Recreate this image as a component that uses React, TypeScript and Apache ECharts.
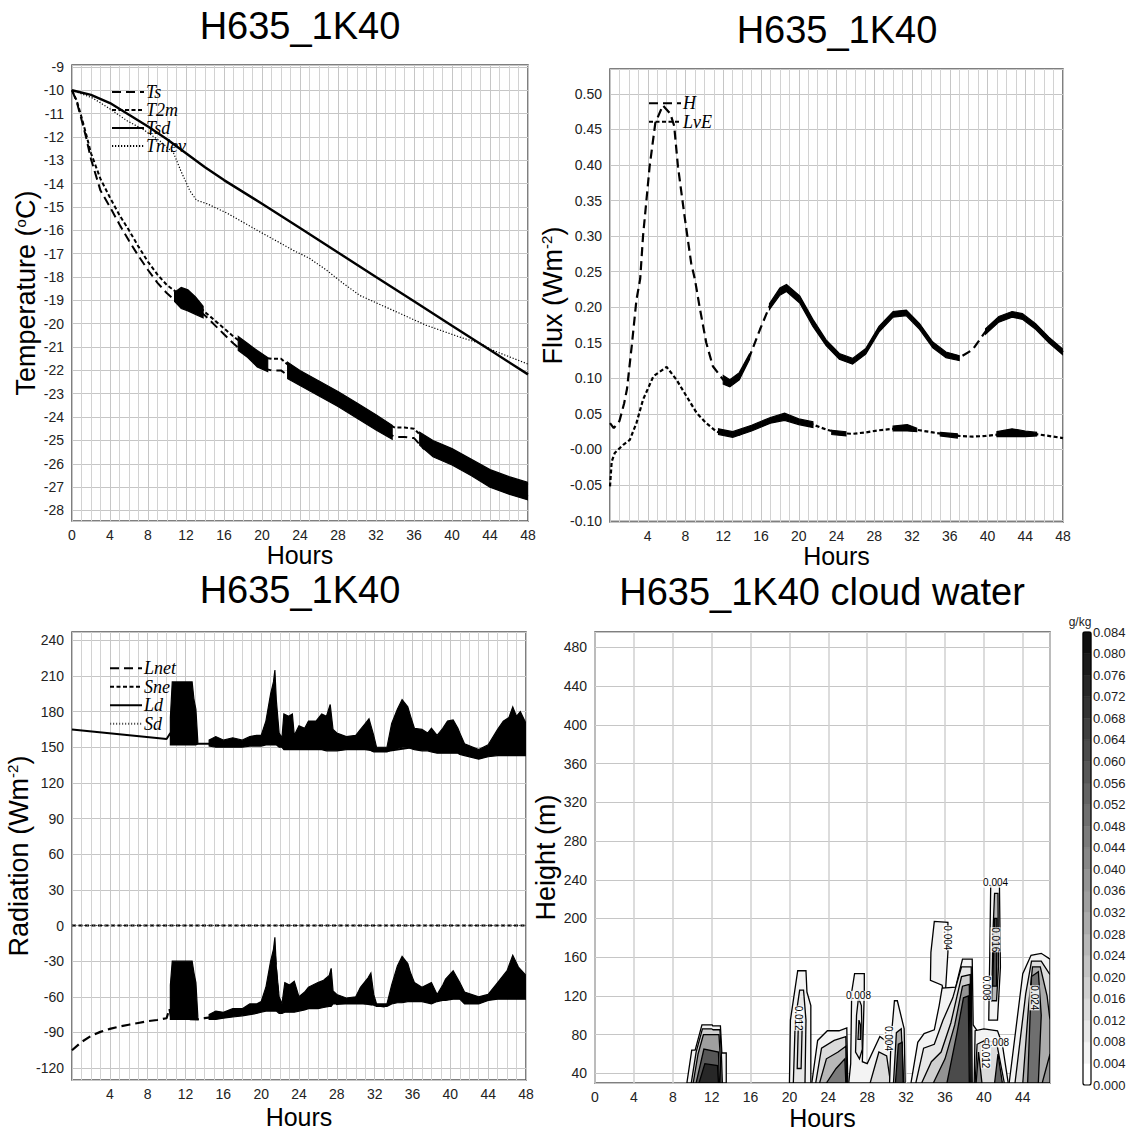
import React, { useEffect, useRef } from 'react';
import * as echarts from 'echarts';

const SANS = '"Liberation Sans", Arial, Helvetica, sans-serif';
const SERIF = '"Liberation Serif", "Times New Roman", Times, serif';

// ---------------- Panel 1: temperatures (°C) ----------------
const tHours = [0, 0.5, 1, 1.5, 2, 3, 4, 5, 6, 7, 8, 9, 10, 11, 12, 13, 14, 15, 16, 17, 18, 19, 20, 21, 22, 23, 24, 26, 28, 30, 32, 33, 34, 35, 36, 37, 38, 40, 42, 44, 46, 48];
const tsValues = [-10, -10.5, -11.25, -12.05, -12.95, -14.3, -15.0, -15.75, -16.45, -17.1, -17.7, -18.25, -18.7, -19.05, -19.2, -19.35, -19.65, -20.05, -20.45, -20.85, -21.2, -21.55, -21.9, -22.0, -22.0, -22.3, -22.5, -22.95, -23.4, -23.9, -24.4, -24.65, -24.85, -24.85, -24.9, -25.35, -25.5, -25.85, -26.35, -26.85, -27.15, -27.4];
const t2mValues = [-10, -10.45, -11.15, -11.9, -12.7, -13.8, -14.6, -15.35, -16.0, -16.7, -17.35, -17.9, -18.35, -18.65, -18.85, -19.1, -19.5, -19.85, -20.2, -20.55, -20.85, -21.15, -21.45, -21.5, -21.5, -21.85, -22.15, -22.55, -23.0, -23.5, -24.0, -24.25, -24.45, -24.45, -24.5, -24.9, -25.1, -25.45, -25.9, -26.35, -26.65, -26.9];
const tsdHours = [0, 2, 4, 6, 8, 10, 12, 14, 16, 20, 24, 28, 32, 36, 40, 44, 48];
const tsdValues = [-10, -10.2, -10.55, -11.05, -11.55, -12.1, -12.7, -13.3, -13.85, -14.86, -15.9, -16.95, -18.0, -19.04, -20.09, -21.13, -22.17];
const tnlevHours = [0, 2.2, 4, 5.8, 7.5, 9.3, 10.7, 11.4, 12.4, 13.1, 14.2, 16.3, 19.8, 21.5, 23.3, 25, 26.8, 28.6, 30.3, 33.8, 37.3, 40.8, 43.1, 44.3, 48];
const tnlevValues = [-10, -10.34, -10.8, -11.31, -11.68, -12.19, -12.7, -13.4, -14.3, -14.71, -14.86, -15.26, -16.07, -16.45, -16.86, -17.2, -17.71, -18.29, -18.79, -19.43, -20.07, -20.57, -20.86, -21.14, -21.73];
// noisy envelope around Ts / T2m: [hour, low, high]; null = gap
const tNoise = [
  [10.8, -19.05, -18.65], [11.5, -19.35, -18.45], [12.2, -19.45, -18.55], [13.0, -19.6, -18.85], [13.8, -19.75, -19.25], null,
  [17.5, -21.15, -20.55], [18.5, -21.45, -20.85], [19.5, -21.85, -21.15], [20.6, -22.05, -21.45], null,
  [22.7, -22.35, -21.65], [24, -22.65, -22.0], [26, -23.1, -22.45], [28, -23.55, -22.9], [30, -24.05, -23.4], [32, -24.55, -23.9], [33.7, -24.95, -24.35], null,
  [36.6, -25.2, -24.65], [38, -25.7, -25.0], [40, -26.05, -25.35], [42, -26.5, -25.8], [44, -27.0, -26.25], [46, -27.3, -26.55], [48, -27.55, -26.8],
];

// ---------------- Panel 2: fluxes (W m-2) ----------------
const hHours = [0, 0.4, 1.0, 1.5, 1.8, 2.3, 2.8, 3.2, 3.5, 4.2, 4.8, 5.6, 6.4, 6.8, 7.2, 7.9, 8.6, 9.0, 9.5, 10.2, 10.9, 12.0, 12.7, 13.7, 14.8, 15.9, 16.9, 18.0, 18.7, 20.1, 21.5, 22.9, 24.3, 25.7, 27.1, 28.5, 30.0, 31.4, 32.8, 34.2, 35.6, 37.0, 38.4, 39.8, 41.2, 42.6, 43.7, 45.1, 46.5, 48];
const hValues = [0.037, 0.030, 0.040, 0.065, 0.085, 0.145, 0.21, 0.24, 0.30, 0.398, 0.459, 0.484, 0.472, 0.455, 0.398, 0.328, 0.262, 0.239, 0.200, 0.150, 0.117, 0.098, 0.093, 0.103, 0.131, 0.169, 0.201, 0.222, 0.227, 0.211, 0.178, 0.150, 0.131, 0.124, 0.138, 0.169, 0.190, 0.192, 0.173, 0.147, 0.133, 0.129, 0.140, 0.166, 0.183, 0.190, 0.187, 0.173, 0.154, 0.137];
const lveHours = [0, 0.18, 0.5, 1.4, 2.1, 2.8, 3.5, 4.6, 6.0, 7.05, 8.1, 9.2, 10.2, 11.3, 12.3, 13.7, 15.2, 16.6, 18, 19, 20.1, 21.5, 22.9, 24.3, 25.7, 27.1, 28.5, 30, 31.4, 32.8, 34.2, 35.6, 37, 38.4, 39.8, 41.2, 42.6, 44, 45.5, 48];
const lveValues = [-0.052, -0.017, -0.005, 0.0066, 0.0136, 0.037, 0.07, 0.103, 0.116, 0.098, 0.075, 0.051, 0.037, 0.025, 0.021, 0.021, 0.030, 0.039, 0.046, 0.044, 0.039, 0.035, 0.028, 0.023, 0.022, 0.024, 0.027, 0.029, 0.030, 0.027, 0.024, 0.021, 0.019, 0.018, 0.019, 0.021, 0.023, 0.022, 0.021, 0.016];
const hNoise = [
  [12.0, 0.092, 0.104], [12.7, 0.088, 0.098], [13.7, 0.098, 0.108], [14.8, 0.127, 0.135], null,
  [16.9, 0.197, 0.205], [18.0, 0.217, 0.227], [18.7, 0.222, 0.232], [20.1, 0.206, 0.216], [21.5, 0.173, 0.183], [22.9, 0.146, 0.154], [24.3, 0.127, 0.135], [25.7, 0.120, 0.128], [27.1, 0.134, 0.142], [28.5, 0.165, 0.173], [30.0, 0.186, 0.194], [31.4, 0.188, 0.196], [32.8, 0.169, 0.177], [34.2, 0.143, 0.151], [35.6, 0.129, 0.137], [37.0, 0.125, 0.132], null,
  [39.8, 0.162, 0.170], [41.2, 0.179, 0.187], [42.6, 0.186, 0.194], [43.7, 0.183, 0.191], [45.1, 0.169, 0.177], [46.5, 0.150, 0.158], [48, 0.133, 0.141],
];
const lveNoise = [
  [11.5, 0.021, 0.029], [13, 0.017, 0.025], [15, 0.026, 0.034], [17, 0.037, 0.045], [18.5, 0.041, 0.051], [20, 0.035, 0.043], [21.5, 0.031, 0.039], null,
  [23.5, 0.021, 0.027], [25, 0.019, 0.025], null,
  [30, 0.026, 0.033], [31.5, 0.026, 0.035], [32.5, 0.025, 0.030], null,
  [35, 0.019, 0.024], [36.8, 0.016, 0.022], null,
  [41, 0.018, 0.025], [42.6, 0.018, 0.029], [44, 0.018, 0.026], [45.2, 0.019, 0.024],
];

// ---------------- Panel 3: radiation (W m-2) ----------------
const ldHours = [0, 10, 10.4, 10.6, 13.3, 14, 16, 18, 20, 20.5, 21, 21.3, 21.5, 21.8, 22.5, 24, 28, 30, 32, 33.5, 36, 38, 40, 42, 43, 44, 46, 48];
const ldValues = [165, 157, 162, 155, 153, 153, 153, 152, 153, 160, 180, 200, 170, 152, 150, 150, 150, 150, 147, 147, 150, 150, 150, 147, 143, 145, 150, 150];
const ldNoise = [
  [10.4, 152, 175], [10.6, 152, 205], [12.7, 152, 205], [12.9, 152, 190], [13.1, 152, 182], [13.3, 153, 155], null,
  [14.5, 151, 156], [15.2, 150, 159], [16, 150, 156], [17, 150, 158], [18, 150, 156], [18.8, 151, 159], [19.5, 151, 160], [20.0, 151, 160], [20.5, 152, 172], [21.0, 152, 195], [21.3, 152, 205], [21.45, 152, 215], [21.6, 152, 190], [21.9, 150, 162], [22.2, 150, 158], [22.4, 148, 178], [22.9, 148, 176], [23.3, 148, 178], [23.5, 148, 160], [24, 148, 168], [24.6, 148, 166], [25, 148, 172], [25.8, 148, 172], [26.4, 148, 178], [26.9, 147, 176], [27.3, 147, 186], [27.6, 147, 165], [28, 147, 162], [29, 148, 159], [30, 148, 160], [30.5, 148, 165], [31.0, 148, 170], [31.4, 148, 174], [31.9, 146, 160], [32.2, 146, 150], [33.3, 146, 150], [33.8, 148, 170], [34.4, 149, 182], [34.9, 150, 190], [35.5, 150, 184], [35.8, 149, 176], [36.2, 148, 166], [37, 147, 165], [37.6, 147, 162], [38, 146, 166], [38.6, 145, 160], [39.2, 145, 166], [39.7, 145, 172], [40.3, 145, 173], [40.8, 145, 166], [41.0, 144, 162], [41.5, 143, 153], [43, 140, 148], [44, 142, 152], [45, 143, 165], [45.6, 143, 172], [46.2, 143, 175], [46.6, 143, 184], [47.0, 143, 176], [47.4, 143, 180], [48, 143, 170],
];
const lnetHours = [0, 1, 2, 3, 4, 5, 6, 7, 8, 9, 10, 10.3, 10.5, 13.3, 14, 16, 18, 20, 20.5, 21, 21.4, 21.7, 22, 24, 28, 30, 32, 33, 34, 36, 38, 40, 42, 43, 44, 46, 48];
const lnetValues = [-105, -98, -93, -89.5, -87, -85, -83.5, -82, -80.5, -79.5, -78, -70, -78, -79, -78, -76, -73, -70, -62, -45, -20, -50, -72, -70, -66, -64, -67, -68, -62, -60, -62, -60, -62, -64, -62, -56, -58];
const lnetNoise = [
  [10.4, -79, -50], [10.6, -79, -30], [12.7, -79, -30], [12.9, -79, -40], [13.1, -79, -48], [13.3, -79, -76], null,
  [14.5, -79, -75], [15.2, -79, -72], [16, -78, -73], [17, -77, -70], [18, -76, -70], [18.8, -75, -66], [19.5, -74, -66], [20, -73, -64], [20.5, -72, -52], [21, -72, -30], [21.3, -72, -20], [21.45, -72, -10], [21.6, -72, -35], [21.9, -74, -60], [22.2, -74, -66], [22.5, -73, -48], [23.0, -73, -50], [23.5, -73, -47], [24, -72, -60], [24.6, -71, -56], [25, -70, -52], [26, -70, -48], [26.6, -69, -46], [27.2, -68, -42], [27.4, -68, -36], [27.6, -66, -55], [28, -66, -58], [29, -66, -61], [30, -66, -60], [30.5, -66, -52], [31.3, -66, -44], [31.6, -66, -40], [31.9, -67, -58], [32.2, -68, -66], [33.3, -68, -66], [33.8, -66, -50], [34.4, -65, -34], [34.9, -65, -26], [35.5, -64, -32], [35.8, -64, -40], [36.2, -64, -48], [37, -64, -52], [38, -66, -48], [38.6, -64, -58], [39.2, -63, -50], [39.5, -63, -45], [40.3, -62, -38], [41, -62, -48], [41.5, -66, -56], [43, -66, -60], [44, -63, -58], [45, -62, -48], [45.6, -62, -42], [46, -62, -38], [46.6, -62, -25], [47.2, -62, -35], [48, -62, -42],
];
const sneHours = [0, 48];
const sneValues = [0, 0];
const sdHours = [0, 48];
const sdValues = [0, 0];

// ---------------- Panel 4: cloud water (g/kg) ----------------
const cloudPolys = [
  { level: 0.004, pts: [[9.45, 30], [9.95, 64], [10.3, 64], [11.0, 90], [12.05, 90], [12.1, 89], [12.9, 89], [13.05, 61], [13.5, 61], [13.5, 30]] },
  { level: 0.016, pts: [[9.9, 30], [10.4, 62], [11.05, 86], [12.0, 86], [12.15, 85], [12.85, 85], [13.0, 60], [13.1, 30]] },
  { level: 0.032, pts: [[10.1, 30], [10.6, 60], [11.15, 80], [12.75, 80], [12.9, 55], [12.95, 30]] },
  { level: 0.056, pts: [[10.4, 30], [11.2, 65], [12.7, 62], [12.8, 30]] },
  { level: 0.072, pts: [[10.7, 30], [11.3, 50], [12.6, 48], [12.7, 30]] },
  { level: 0.004, pts: [[20.0, 30], [20.1, 95], [20.85, 146], [21.7, 146], [21.8, 124], [22.2, 110], [22.2, 30]] },
  { level: 0.008, pts: [[20.4, 30], [20.6, 95], [21.05, 126], [21.45, 126], [21.7, 95], [21.6, 30]] },
  { level: 0.012, pts: [[20.8, 45], [20.9, 85], [21.15, 100], [21.3, 85], [21.2, 45]] },
  { level: 0.004, pts: [[22.3, 30], [22.9, 74], [23.9, 84], [25.1, 84], [25.9, 87], [26.0, 30]] },
  { level: 0.012, pts: [[22.7, 30], [23.3, 66], [24.6, 74], [25.8, 78], [25.9, 30]] },
  { level: 0.024, pts: [[23.1, 30], [23.8, 55], [25.0, 62], [25.8, 68], [25.85, 30]] },
  { level: 0.044, pts: [[23.8, 30], [24.8, 45], [25.7, 55], [25.8, 30]] },
  { level: 0.004, pts: [[26.1, 30], [26.3, 50], [26.4, 124], [26.7, 143], [27.7, 143], [27.7, 124], [27.5, 52], [28.0, 50], [29.3, 78], [30.1, 72], [30.6, 72], [30.6, 30]] },
  { level: 0.008, pts: [[26.8, 62], [26.9, 100], [27.1, 118], [27.4, 110], [27.5, 65], [27.2, 55]] },
  { level: 0.016, pts: [[27.05, 75], [27.15, 95], [27.3, 90], [27.3, 75]] },
  { level: 0.012, pts: [[28.3, 30], [29.2, 62], [30.0, 58], [30.4, 30]] },
  { level: 0.004, pts: [[30.3, 30], [30.45, 75], [30.8, 115], [31.1, 115], [31.8, 86], [31.9, 30]] },
  { level: 0.028, pts: [[30.7, 30], [31.0, 82], [31.5, 86], [31.75, 30]] },
  { level: 0.064, pts: [[30.9, 30], [31.2, 70], [31.6, 72], [31.7, 30]] },
  { level: 0.004, pts: [[34.5, 136], [34.55, 165], [34.9, 197], [36.3, 196], [36.3, 165], [36.0, 117], [35.7, 131]] },
  { level: 0.004, pts: [[32.5, 30], [33.2, 72], [33.85, 81], [34.9, 85], [35.4, 110], [35.7, 128], [37.1, 129], [37.8, 158], [38.8, 158], [38.9, 90], [39.3, 84], [39.5, 30]] },
  { level: 0.008, pts: [[33.0, 30], [33.8, 66], [34.9, 70], [35.8, 95], [36.8, 118], [37.7, 150], [38.7, 150], [38.8, 30]] },
  { level: 0.016, pts: [[33.6, 30], [34.6, 52], [35.6, 62], [36.6, 92], [37.7, 140], [38.6, 142], [38.7, 30]] },
  { level: 0.036, pts: [[34.8, 30], [36.0, 55], [37.0, 90], [37.8, 130], [38.5, 132], [38.6, 30]] },
  { level: 0.06, pts: [[36.2, 30], [37.2, 80], [37.9, 118], [38.4, 120], [38.5, 30]] },
  { level: 0.004, pts: [[40.5, 95], [40.6, 160], [40.7, 234], [41.6, 234], [41.7, 150], [41.4, 95]] },
  { level: 0.024, pts: [[40.8, 115], [40.95, 190], [41.1, 226], [41.45, 226], [41.5, 150], [41.3, 115]] },
  { level: 0.06, pts: [[40.9, 130], [41.1, 200], [41.35, 200], [41.3, 130]] },
  { level: 0.004, pts: [[39.0, 30], [39.1, 84], [40.0, 86], [41.4, 84], [41.9, 70], [42.5, 30]] },
  { level: 0.012, pts: [[39.1, 30], [39.3, 70], [40.1, 74], [41.3, 72], [42.1, 30]] },
  { level: 0.04, pts: [[39.2, 30], [39.45, 62], [39.8, 30]] },
  { level: 0.052, pts: [[41.1, 30], [41.45, 60], [41.9, 30]] },
  { level: 0.004, pts: [[42.6, 30], [44.0, 143], [44.85, 162], [45.9, 164], [46.8, 158], [46.8, 30]] },
  { level: 0.012, pts: [[43.2, 30], [44.3, 122], [44.9, 156], [45.9, 156], [46.8, 142], [46.8, 30]] },
  { level: 0.028, pts: [[44.0, 30], [44.6, 110], [45.0, 150], [45.8, 150], [46.5, 120], [46.8, 95], [46.8, 30]] },
  { level: 0.048, pts: [[44.5, 30], [44.9, 140], [45.6, 145], [45.9, 100], [45.6, 30]] },
  { level: 0.036, pts: [[46.0, 30], [46.8, 60], [46.8, 30]] },
];
const contourLabels = [
  { h: 20.96, z: 97, text: '0.012', rot: -90 },
  { h: 27.1, z: 120, text: '0.008', rot: 0 },
  { h: 30.2, z: 76, text: '0.004', rot: -90 },
  { h: 36.25, z: 180, text: '0.004', rot: -90 },
  { h: 41.2, z: 237, text: '0.004', rot: 0 },
  { h: 41.2, z: 178, text: '0.016', rot: -90 },
  { h: 40.3, z: 128, text: '0.008', rot: -90 },
  { h: 41.3, z: 72, text: '0.008', rot: 0 },
  { h: 40.2, z: 58, text: '0.012', rot: -90 },
  { h: 45.2, z: 118, text: '0.024', rot: -90 },
];
const colorbarLevels = [0, 0.004, 0.008, 0.012, 0.016, 0.02, 0.024, 0.028, 0.032, 0.036, 0.04, 0.044, 0.048, 0.052, 0.056, 0.06, 0.064, 0.068, 0.072, 0.076, 0.08];
const colorbarStep = 0.004;
const colorbarMax = 0.084;

const levelGray = (level: number) => {
  const idx = Math.round(level / colorbarStep);
  const g = Math.max(0, Math.round(255 - idx * 12));
  return `rgb(${g},${g},${g})`;
};

const zip = (xs: number[], ys: number[]) => xs.map((x, i) => [x, ys[i]]);

const lineSeries = (name: string, xs: number[], ys: number[], idx: number, dash: any, width: number, color = '#000') => ({
  type: 'line',
  name,
  xAxisIndex: idx,
  yAxisIndex: idx,
  data: zip(xs, ys),
  showSymbol: false,
  symbol: 'none',
  clip: true,
  lineStyle: { color, width, type: dash },
  itemStyle: { color },
  z: 4,
});

const bandSeries = (band: any[], idx: number, color = '#000') => {
  const segments: number[][][] = [];
  let cur: number[][] = [];
  band.forEach((b) => {
    if (b === null) {
      if (cur.length) segments.push(cur);
      cur = [];
    } else cur.push(b);
  });
  if (cur.length) segments.push(cur);
  return {
    type: 'custom',
    xAxisIndex: idx,
    yAxisIndex: idx,
    silent: true,
    clip: true,
    z: 3,
    data: segments.map((s, i) => [s[0][0], s[0][1], i]),
    encode: { x: 0, y: 1 },
    renderItem: (_p: any, api: any) => {
      const seg = segments[api.value(2)];
      const top = seg.map((p) => api.coord([p[0], p[2]]));
      const bot = seg.slice().reverse().map((p) => api.coord([p[0], p[1]]));
      return { type: 'polygon', shape: { points: top.concat(bot) }, style: { fill: color, stroke: color, lineWidth: 1.2 } };
    },
  };
};

const tickLabel = { fontSize: 14, color: '#222', fontFamily: SANS };
const nameStyle = (size: number) => ({
  fontSize: size,
  fontFamily: SANS,
  color: '#000',
  rich: { sup: { fontSize: 15, fontFamily: SANS, color: '#000', verticalAlign: 'top', padding: [0, 0, 10, 0] } },
});
const gridLine = { show: true, lineStyle: { color: '#c6c6c6', width: 1 } };
const minorLine = { show: true, lineStyle: { color: '#d2d2d2', width: 1 } };

const xAxisFor = (gridIndex: number, showZero: boolean, max: number, minor: boolean, nameGap: number) => ({
  type: 'value',
  gridIndex,
  min: 0,
  max,
  interval: 4,
  axisLine: { show: false },
  axisTick: { show: false },
  axisLabel: {
    ...tickLabel,
    margin: 7,
    showMaxLabel: true,
    formatter: (v: number) => (Math.abs(v % 4) > 1e-6 || (!showZero && v === 0) ? '' : String(v)),
  },
  splitLine: minor ? gridLine : { show: true, lineStyle: { color: '#d0d0d0', width: 1.5 } },
  minorTick: { show: false, splitNumber: 4 },
  minorSplitLine: { ...minorLine, show: minor },
  name: 'Hours',
  nameLocation: 'middle',
  nameGap,
  nameTextStyle: nameStyle(25),
});

const yAxisFor = (gridIndex: number, min: number, max: number, step: number, fmt: (v: number) => string, name: string, nameGap: number) => ({
  type: 'value',
  gridIndex,
  min,
  max,
  splitNumber: Math.round((max - min) / step),
  minInterval: step,
  maxInterval: step,
  axisLine: { show: false },
  axisTick: { show: false },
  axisLabel: {
    ...tickLabel,
    margin: 8,
    showMinLabel: false,
    showMaxLabel: false,
    formatter: (v: number) => {
      const r = v / step;
      if (Math.abs(r - Math.round(r)) > 1e-6) return '';
      return fmt(v);
    },
  },
  splitLine: gridLine,
  name,
  nameLocation: 'middle',
  nameGap,
  nameTextStyle: nameStyle(27),
});

const legendFor = (data: string[], left: number, top: number, rowH: number) => ({
  data,
  orient: 'vertical',
  left,
  top,
  padding: 0,
  itemWidth: 32,
  itemHeight: rowH,
  itemGap: 0,
  selectedMode: false,
  itemStyle: { opacity: 0 },
  textStyle: { fontFamily: SERIF, fontStyle: 'italic', fontSize: 18, color: '#000', lineHeight: rowH, padding: [0, 0, 0, -3] },
});

const LONG = [9, 5];
const SHORT = [4, 2.5];
const DOT = [1.2, 1.8];

const titleText = (text: string, x: number, y: number) => ({
  type: 'text',
  x,
  y,
  style: { text, font: `38px ${SANS}`, fill: '#000', align: 'center', verticalAlign: 'middle' },
});

export default function App() {
  const ref = useRef<HTMLDivElement>(null);
  useEffect(() => {
    if (!ref.current) return;
    const chart = echarts.init(ref.current, undefined, { renderer: 'svg' });
    const gridBox = { show: true, borderColor: '#555', borderWidth: 1.5, backgroundColor: 'transparent' };

    const option: any = {
      animation: false,
      backgroundColor: '#fff',
      grid: [
        { ...gridBox, left: 72, top: 65, width: 456, height: 456 },
        { ...gridBox, left: 610, top: 69, width: 453, height: 453 },
        { ...gridBox, left: 72, top: 632, width: 454, height: 448 },
        { ...gridBox, left: 595, top: 632, width: 455, height: 453 },
        { show: false, left: 1083, top: 632, width: 8, height: 453 },
      ],
      xAxis: [
        xAxisFor(0, true, 48, true, 19),
        xAxisFor(1, false, 48, true, 19),
        xAxisFor(2, false, 48, true, 24),
        xAxisFor(3, true, 46.8, false, 22),
        { type: 'value', gridIndex: 4, min: 0, max: 1, show: false },
      ],
      yAxis: [
        yAxisFor(0, -28.45, -8.92, 1, (v) => String(Math.round(v)), 'Temperature ({sup|o}C)', 30),
        yAxisFor(1, -0.102, 0.535, 0.05, (v) => (Math.abs(v) < 1e-9 ? '-0.00' : v.toFixed(2)), 'Flux (Wm{sup|-2})', 27),
        yAxisFor(2, -130, 247, 30, (v) => String(Math.round(v)), 'Radiation (Wm{sup|-2})', 37),
        yAxisFor(3, 30, 496, 40, (v) => String(Math.round(v)), 'Height (m)', 23),
        {
          type: 'value',
          gridIndex: 4,
          position: 'right',
          min: 0,
          max: colorbarMax,
          interval: colorbarStep,
          axisLine: { show: false },
          axisTick: { show: false },
          splitLine: { show: false },
          axisLabel: { fontSize: 13, color: '#222', fontFamily: SANS, margin: 2, formatter: (v: number) => v.toFixed(3) },
        },
      ],
      legend: [
        legendFor(['Ts', 'T2m', 'Tsd', 'Tnlev'], 111, 83, 11.5),
        legendFor(['H', 'LvE'], 648, 94, 18.5),
        legendFor(['Lnet', 'Sne', 'Ld', 'Sd'], 109, 659, 18.5),
      ],
      graphic: [
        titleText('H635_1K40', 300, 26),
        titleText('H635_1K40', 837, 30),
        titleText('H635_1K40', 300, 590),
        titleText('H635_1K40 cloud water', 822, 592),
        { type: 'text', x: 1080, y: 622, style: { text: 'g/kg', font: `12px ${SANS}`, fill: '#222', align: 'center', verticalAlign: 'middle' } },
      ],
      series: [
        // panel 1
        bandSeries(tNoise, 0),
        lineSeries('Ts', tHours, tsValues, 0, LONG, 2),
        lineSeries('T2m', tHours, t2mValues, 0, SHORT, 2),
        lineSeries('Tsd', tsdHours, tsdValues, 0, 'solid', 2.4),
        lineSeries('Tnlev', tnlevHours, tnlevValues, 0, DOT, 1.2),
        // panel 2
        bandSeries(hNoise, 1),
        bandSeries(lveNoise, 1),
        lineSeries('H', hHours, hValues, 1, LONG, 2.2),
        lineSeries('LvE', lveHours, lveValues, 1, SHORT, 2.2),
        // panel 3
        bandSeries(ldNoise, 2),
        bandSeries(lnetNoise, 2),
        lineSeries('Lnet', lnetHours, lnetValues, 2, LONG, 2.2),
        lineSeries('Sne', sneHours, sneValues, 2, SHORT, 2),
        lineSeries('Ld', ldHours, ldValues, 2, 'solid', 2),
        lineSeries('Sd', sdHours, sdValues, 2, DOT, 1, '#555'),
        // panel 4: filled contours
        {
          type: 'custom',
          xAxisIndex: 3,
          yAxisIndex: 3,
          silent: true,
          clip: true,
          z: 3,
          data: cloudPolys.map((p, i) => [p.pts[0][0], p.pts[0][1], i]),
          encode: { x: 0, y: 1 },
          renderItem: (_p: any, api: any) => {
            const poly = cloudPolys[api.value(2)];
            return {
              type: 'polygon',
              shape: { points: poly.pts.map((pt) => api.coord(pt)) },
              style: { fill: levelGray(poly.level), stroke: '#000', lineWidth: 1.3 },
            };
          },
        },
        {
          type: 'custom',
          xAxisIndex: 3,
          yAxisIndex: 3,
          silent: true,
          z: 5,
          data: contourLabels.map((l, i) => [l.h, l.z, i]),
          encode: { x: 0, y: 1 },
          renderItem: (_p: any, api: any) => {
            const l = contourLabels[api.value(2)];
            const c = api.coord([l.h, l.z]);
            return {
              type: 'text',
              x: c[0],
              y: c[1],
              rotation: (l.rot * Math.PI) / 180,
              style: { text: l.text, font: `10px ${SANS}`, fill: '#000', align: 'center', verticalAlign: 'middle', backgroundColor: 'rgba(255,255,255,0.85)' },
            };
          },
        },
        // colour bar
        {
          type: 'custom',
          xAxisIndex: 4,
          yAxisIndex: 4,
          silent: true,
          data: colorbarLevels.map((l) => [0, l]),
          encode: { x: 0, y: 1 },
          renderItem: (_p: any, api: any) => {
            const l = api.value(1);
            const a = api.coord([0, l + colorbarStep]);
            const b = api.coord([1, l]);
            return { type: 'rect', shape: { x: a[0], y: a[1], width: b[0] - a[0], height: b[1] - a[1] }, style: { fill: levelGray(l), stroke: levelGray(l), lineWidth: 0.5 } };
          },
        },
        {
          type: 'custom',
          xAxisIndex: 4,
          yAxisIndex: 4,
          silent: true,
          z: 6,
          data: [[0, 0]],
          encode: { x: 0, y: 1 },
          renderItem: (_p: any, api: any) => {
            const a = api.coord([0, colorbarMax]);
            const b = api.coord([1, 0]);
            return { type: 'rect', shape: { x: a[0], y: a[1], width: b[0] - a[0], height: b[1] - a[1], r: 2 }, style: { fill: 'none', stroke: '#000', lineWidth: 1.2 } };
          },
        },
      ],
    };
    chart.setOption(option);
    return () => chart.dispose();
  }, []);
  return <div ref={ref} style={{ position: 'fixed', left: 0, top: 0, width: 1133, height: 1131, background: '#fff' }} />;
}
